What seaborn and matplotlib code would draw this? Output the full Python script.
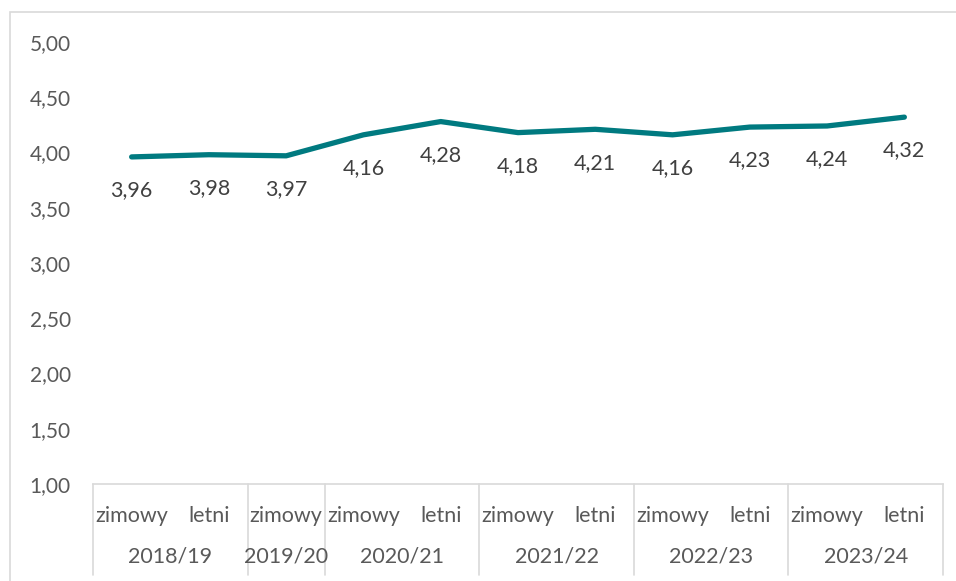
import numpy as np
import pandas as pd
import matplotlib
matplotlib.use("Agg")
import matplotlib.pyplot as plt
import matplotlib.transforms as mtransforms
from matplotlib.patches import Rectangle
import seaborn as sns

# data
semesters = ["zimowy", "letni", "zimowy", "zimowy", "letni", "zimowy", "letni",
             "zimowy", "letni", "zimowy", "letni"]
years = ["2018/19", "2019/20", "2020/21", "2021/22", "2022/23", "2023/24"]
year_sizes = [2, 1, 2, 2, 2, 2]
values = [3.96, 3.98, 3.97, 4.16, 4.28, 4.18, 4.21, 4.16, 4.23, 4.24, 4.32]
y_ticks = [1.0, 1.5, 2.0, 2.5, 3.0, 3.5, 4.0, 4.5, 5.0]

sns.set_theme(style="white")
plt.rcParams['font.family'] = ['Lato', 'DejaVu Sans']

text_color = '#404040'
tick_color = '#595959'
axis_color = '#d9d9d9'
line_color = '#007a80'

df = pd.DataFrame({"pos": np.arange(len(values)), "value": values})

fig = plt.figure(figsize=(9.56, 5.81), dpi=100)
ax = fig.add_axes([93 / 956, 97 / 581, 850 / 956, 442 / 581])

sns.lineplot(data=df, x="pos", y="value", ax=ax, color=line_color,
             linewidth=3.8, solid_capstyle='round')

# data labels below the points
for x, v in zip(df["pos"], df["value"]):
    ax.annotate(f"{v:.2f}".replace(".", ","), (x, v), xytext=(0, -24),
                textcoords="offset points", ha="center", va="center",
                fontsize=15.5, color=text_color)

ax.set_xlim(-0.5, len(values) - 0.5)
ax.set_ylim(1, 5)
ax.set_yticks(y_ticks)
ax.set_yticklabels([f"{t:.2f}".replace(".", ",") for t in y_ticks],
                   fontsize=15, color=tick_color)
ax.tick_params(axis='y', length=0, pad=16)

ax.set_xticks(df["pos"])
ax.set_xticklabels(semesters, fontsize=15.5, color=tick_color)
ax.tick_params(axis='x', length=0, pad=16)
ax.set_xlabel("")
ax.set_ylabel("")

for side in ["left", "right", "top"]:
    ax.spines[side].set_visible(False)
ax.spines["bottom"].set_color(axis_color)
ax.spines["bottom"].set_linewidth(1.2)

# second level of the category axis: years and separators
trans = mtransforms.blended_transform_factory(ax.transData, ax.transAxes)
bounds = np.concatenate([[0], np.cumsum(year_sizes)]) - 0.5
for b in bounds:
    ax.plot([b, b], [0, -0.206], transform=trans, color=axis_color,
            linewidth=1.2, clip_on=False)
for yr, lo, hi in zip(years, bounds[:-1], bounds[1:]):
    ax.text((lo + hi) / 2, -0.163, yr, transform=trans, ha="center",
            va="center", fontsize=15.5, color=tick_color)

# chart frame
fig.patches.append(Rectangle((10 / 956, -0.05), 1.0, 1 - 12 / 581 + 0.05,
                             transform=fig.transFigure, fill=False,
                             edgecolor=axis_color, linewidth=1.2))

fig.savefig("out.png", dpi=100)
